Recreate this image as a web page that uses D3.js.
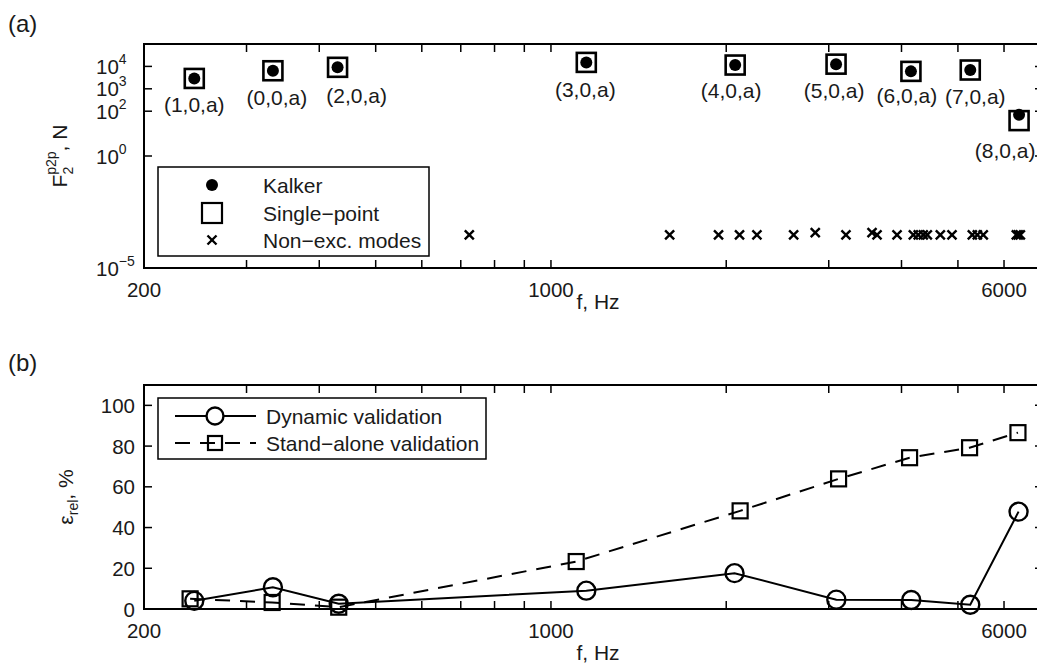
<!DOCTYPE html>
<html>
<head>
<meta charset="utf-8">
<script src="https://cdn.jsdelivr.net/npm/d3@7"></script>
<style>
  html, body { margin: 0; padding: 0; background: #fff; }
  svg { display: block; font-family: "Liberation Sans", Arial, Helvetica, sans-serif; }
  text { fill: #1a1a1a; }
</style>
</head>
<body>
<svg id="chart" width="1037" height="671"></svg>
<script>
// ---- data -------------------------------------------------------------
// Excited modes: frequency (Hz) and peak-to-peak force F2 (N)
const modeFreq        = [244, 333, 430, 1150, 2072, 3088, 4152, 5250, 6368];
const modeLabels      = ["(1,0,a)", "(0,0,a)", "(2,0,a)", "(3,0,a)", "(4,0,a)",
                         "(5,0,a)", "(6,0,a)", "(7,0,a)", "(8,0,a)"];
const kalkerForce     = [2900, 6400, 9100, 15100, 11500, 12600, 6000, 6900, 69];
const singlePointForce= [2900, 6400, 9100, 15100, 11500, 12600, 6000, 6900, 38];

// Non-excited modes (frequency, Hz) and their force level (N)
const nonExcFreq  = [724, 1599, 1940, 2108, 2258, 2611, 2844, 3211, 3560, 3631,
                     3930, 4192, 4274, 4360, 4430, 4664, 4884, 5293, 5399, 5527,
                     6299, 6349, 6400];
const nonExcForce = [3e-4, 3e-4, 3e-4, 3e-4, 3e-4, 3e-4, 3.8e-4, 3e-4, 3.8e-4, 3e-4,
                     3e-4, 3e-4, 3e-4, 3e-4, 3e-4, 3e-4, 3e-4, 3e-4, 3e-4, 3e-4,
                     3e-4, 3e-4, 3e-4];

// Relative error (%) of the two validations
const dynamicFreq     = [244, 333, 432, 1150, 2067, 3091, 4157, 5250, 6355];
const dynamicError    = [4.0, 10.7, 2.6, 9.0, 17.6, 4.6, 4.4, 2.1, 47.8];
const standAloneFreq  = [240, 332, 432, 1105, 2113, 3119, 4130, 5236, 6340];
const standAloneError = [5.0, 3.2, 0.9, 23.3, 48.2, 63.9, 74.3, 79.2, 86.6];

// Axis ticks
const xMajorTicks = [200, 1000, 6000];
const xMinorTicks = [300, 400, 500, 600, 700, 800, 900, 2000, 3000, 4000, 5000];
const forceTicks  = [1e-5, 1e0, 1e2, 1e3, 1e4];
const errorTicks  = [0, 20, 40, 60, 80, 100];

// ---- layout -------------------------------------------------------------
const svg = d3.select("#chart");
const L = 144, R = 1043;
const topA = 44, botA = 268;
const topB = 385, botB = 609;
const TICK = 8;
const FS = 20.5;

const x = d3.scaleLog().domain([200, 7000]).range([L, R]);
const yA = d3.scaleLog().domain([1e-5, 1e5]).range([botA, topA]);
const yB = d3.scaleLinear().domain([0, 110]).range([botB, topB]);

// label placement (offset from the Kalker marker), pixels
const labelOffsets = [[0, 34], [4, 34], [19, 36], [-1, 35], [-4, 33],
                      [-2, 34], [-4, 32], [5, 34], [-14, 43]];

function frame(g, top, bottom) {
  g.append("path")
    .attr("d", `M${R},${top}H${L}V${bottom}H${R}V${top}`)
    .attr("fill", "none").attr("stroke", "#000").attr("stroke-width", 2);
  const allX = xMajorTicks.concat(xMinorTicks);
  g.selectAll(null).data(allX).enter().append("line")
    .attr("x1", d => x(d)).attr("x2", d => x(d))
    .attr("y1", bottom).attr("y2", bottom - TICK)
    .attr("stroke", "#000").attr("stroke-width", 1.5);
  g.selectAll(null).data(allX).enter().append("line")
    .attr("x1", d => x(d)).attr("x2", d => x(d))
    .attr("y1", top).attr("y2", top + TICK)
    .attr("stroke", "#000").attr("stroke-width", 1.5);
  g.selectAll(null).data(xMajorTicks).enter().append("text")
    .attr("x", d => x(d)).attr("y", bottom + 29)
    .attr("text-anchor", "middle").attr("font-size", FS)
    .text(d => d);
}

function yTickLines(g, scale, ticks) {
  g.selectAll(null).data(ticks).enter().append("line")
    .attr("x1", L).attr("x2", L + TICK)
    .attr("y1", d => scale(d)).attr("y2", d => scale(d))
    .attr("stroke", "#000").attr("stroke-width", 1.5);
  g.selectAll(null).data(ticks).enter().append("line")
    .attr("x1", R).attr("x2", R - TICK)
    .attr("y1", d => scale(d)).attr("y2", d => scale(d))
    .attr("stroke", "#000").attr("stroke-width", 1.5);
}

// ---- panel (a) ------------------------------------------------------------
const gA = svg.append("g");
svg.append("text").attr("x", 8).attr("y", 32).attr("font-size", 24).text("(a)");

yTickLines(gA, yA, forceTicks);
const ftl = gA.selectAll(null).data(forceTicks).enter().append("text")
  .attr("font-size", FS);
ftl.append("tspan").attr("x", L - 27).attr("y", d => yA(d) + 7.5)
  .attr("text-anchor", "start").attr("dx", -21).text("10");
ftl.append("tspan").attr("font-size", 14).attr("dy", -10)
  .text(d => { const e = Math.round(Math.log10(d)); return e < 0 ? "\u2212" + (-e) : e; });

// Non-excited modes
const cross = d3.symbol().type(d3.symbolX).size(55);
gA.selectAll(null).data(nonExcFreq).enter().append("path")
  .attr("d", cross)
  .attr("transform", (d, i) => `translate(${x(d)},${yA(nonExcForce[i])})`)
  .attr("fill", "none").attr("stroke", "#000").attr("stroke-width", 2.4);

// Single-point squares
const SQ = 19;
gA.selectAll(null).data(modeFreq).enter().append("rect")
  .attr("x", d => x(d) - SQ / 2)
  .attr("y", (d, i) => yA(singlePointForce[i]) - SQ / 2)
  .attr("width", SQ).attr("height", SQ)
  .attr("fill", "none").attr("stroke", "#000").attr("stroke-width", 2.6);

// Kalker dots
gA.selectAll(null).data(modeFreq).enter().append("circle")
  .attr("cx", d => x(d)).attr("cy", (d, i) => yA(kalkerForce[i]))
  .attr("r", 6).attr("fill", "#000");

// Mode labels
gA.selectAll(null).data(modeLabels).enter().append("text")
  .attr("x", (d, i) => x(modeFreq[i]) + labelOffsets[i][0])
  .attr("y", (d, i) => yA(kalkerForce[i]) + labelOffsets[i][1])
  .attr("text-anchor", "middle").attr("font-size", 21)
  .text(d => d);

frame(gA, topA, botA);

// Legend (a)
const legA = gA.append("g");
legA.append("rect").attr("x", 158).attr("y", 167).attr("width", 271).attr("height", 89)
  .attr("fill", "#fff").attr("stroke", "#000").attr("stroke-width", 1.5);
legA.append("circle").attr("cx", 212).attr("cy", 185).attr("r", 6).attr("fill", "#000");
legA.append("rect").attr("x", 212 - 10).attr("y", 213 - 10).attr("width", 20).attr("height", 20)
  .attr("fill", "none").attr("stroke", "#000").attr("stroke-width", 2.2);
legA.append("path").attr("d", cross).attr("transform", "translate(212,240)")
  .attr("fill", "none").attr("stroke", "#000").attr("stroke-width", 2.4);
["Kalker", "Single\u2212point", "Non\u2212exc. modes"].forEach((t, i) => {
  legA.append("text").attr("x", 263).attr("y", [193, 221, 248][i])
    .attr("font-size", 21).text(t);
});

// Axis titles (a)
svg.append("text").attr("x", 598).attr("y", 309)
  .attr("text-anchor", "middle").attr("font-size", 21).text("f, Hz");
const ylabA = svg.append("text")
  .attr("transform", `translate(67,${(topA + botA) / 2}) rotate(-90)`)
  .attr("text-anchor", "middle").attr("font-size", 21);
ylabA.append("tspan").text("F");
ylabA.append("tspan").attr("font-size", 14).attr("dy", 6).text("2");
ylabA.append("tspan").attr("font-size", 14).attr("dx", -8).attr("dy", -17).text("p2p");
ylabA.append("tspan").attr("dy", 11).text(", N");

// ---- panel (b) ------------------------------------------------------------
const gB = svg.append("g");
svg.append("text").attr("x", 8).attr("y", 371).attr("font-size", 24).text("(b)");

yTickLines(gB, yB, errorTicks);
gB.selectAll(null).data(errorTicks).enter().append("text")
  .attr("x", L - 9).attr("y", d => yB(d) + 7.5)
  .attr("text-anchor", "end").attr("font-size", FS).text(d => d);

const lineDyn = d3.line().x(d => x(d[0])).y(d => yB(d[1]));
const dynPts = dynamicFreq.map((f, i) => [f, dynamicError[i]]);
const saPts = standAloneFreq.map((f, i) => [f, standAloneError[i]]);

gB.append("path").attr("d", lineDyn(saPts))
  .attr("fill", "none").attr("stroke", "#000").attr("stroke-width", 2)
  .attr("stroke-dasharray", "15,10");
gB.append("path").attr("d", lineDyn(dynPts))
  .attr("fill", "none").attr("stroke", "#000").attr("stroke-width", 2);

const SQB = 15;
gB.selectAll(null).data(saPts).enter().append("rect")
  .attr("x", d => x(d[0]) - SQB / 2).attr("y", d => yB(d[1]) - SQB / 2)
  .attr("width", SQB).attr("height", SQB)
  .attr("fill", "none").attr("stroke", "#000").attr("stroke-width", 2.2);
gB.selectAll(null).data(dynPts).enter().append("circle")
  .attr("cx", d => x(d[0])).attr("cy", d => yB(d[1])).attr("r", 9)
  .attr("fill", "none").attr("stroke", "#000").attr("stroke-width", 2.4);

frame(gB, topB, botB);

// Legend (b)
const legB = gB.append("g");
legB.append("rect").attr("x", 158).attr("y", 398).attr("width", 328).attr("height", 61)
  .attr("fill", "#fff").attr("stroke", "#000").attr("stroke-width", 1.5);
legB.append("line").attr("x1", 175).attr("x2", 256).attr("y1", 416).attr("y2", 416)
  .attr("stroke", "#000").attr("stroke-width", 2);
legB.append("circle").attr("cx", 215).attr("cy", 416).attr("r", 8.5)
  .attr("fill", "#fff").attr("stroke", "#000").attr("stroke-width", 2.4);
legB.append("line").attr("x1", 175).attr("x2", 256).attr("y1", 443).attr("y2", 443)
  .attr("stroke", "#000").attr("stroke-width", 2).attr("stroke-dasharray", "15,10");
legB.append("rect").attr("x", 215 - 7).attr("y", 443 - 7).attr("width", 14).attr("height", 14)
  .attr("fill", "none").attr("stroke", "#000").attr("stroke-width", 2.2);
["Dynamic validation", "Stand\u2212alone validation"].forEach((t, i) => {
  legB.append("text").attr("x", 266).attr("y", [424, 451][i])
    .attr("font-size", 21).text(t);
});

// Axis titles (b)
svg.append("text").attr("x", 598).attr("y", 660)
  .attr("text-anchor", "middle").attr("font-size", 21).text("f, Hz");
const ylabB = svg.append("text")
  .attr("transform", `translate(73,${(topB + botB) / 2}) rotate(-90)`)
  .attr("text-anchor", "middle").attr("font-size", 21);
ylabB.append("tspan").text("\u03b5");
ylabB.append("tspan").attr("font-size", 14).attr("dy", 5).text("rel");
ylabB.append("tspan").attr("dy", -5).text(", %");
</script>
</body>
</html>
